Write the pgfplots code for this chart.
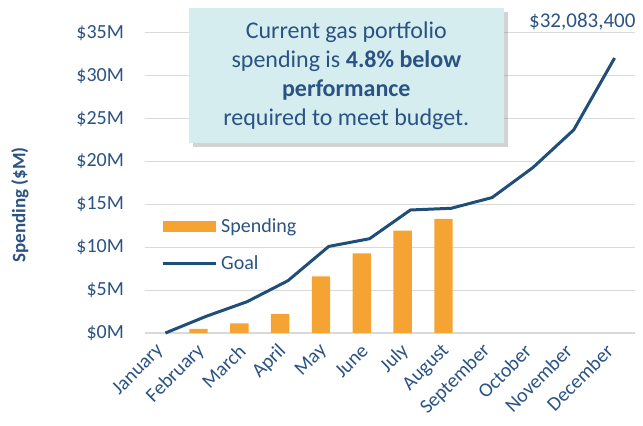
\documentclass[border=0pt]{standalone}
\usepackage{fontspec}
\setmainfont{Carlito}
\usepackage{pgfplots}
\pgfplotsset{compat=1.18}
\usetikzlibrary{shadows}

\definecolor{navy}{HTML}{1F4E79}
\definecolor{barorange}{HTML}{F5A433}
\definecolor{textblue}{HTML}{2A5384}
\definecolor{gridgray}{HTML}{D9D9D9}
\definecolor{boxfill}{HTML}{D5EDEF}

\begin{document}
\begin{tikzpicture}
\begin{axis}[
    at={(0,0)}, anchor=south west,
    scale only axis,
    width=245pt, height=150pt,
    xmin=-0.5, xmax=11.5,
    ymin=0, ymax=35,
    clip=false,
    xtick={0,...,11},
    xticklabels={January,February,March,April,May,June,July,August,September,October,November,December},
    ytick={0,5,10,15,20,25,30,35},
    yticklabels={\$0M,\$5M,\$10M,\$15M,\$20M,\$25M,\$30M,\$35M},
    /pgf/number format/assume math mode=true,
    axis x line*=bottom, axis y line*=left,
    x axis line style={-, draw=gridgray, line width=0.6pt},
    y axis line style={draw=none},
    major tick length=0pt,
    ymajorgrids=true,
    grid style={gridgray, line width=0.5pt},
    tick label style={font=\fontsize{10}{12}\selectfont, text=textblue},
    xticklabel style={rotate=45, anchor=east},
    xticklabel shift=5pt,
    yticklabel shift=7pt,
    ylabel={\textbf{Spending (\$M)}},
    ylabel style={at={(rel axis cs:-0.255,0.427)}, anchor=center, font=\fontsize{9.5}{11}\selectfont, text=textblue},
    legend style={at={(rel axis cs:0.02,0.41)}, anchor=north west, draw=none, fill=none,
        font=\fontsize{10}{12}\selectfont, text=textblue, row sep=6pt},
    legend cell align=left,
]
\addplot[ybar, bar width=0.45, bar shift=-0.19, fill=barorange, draw=none,
    legend image code/.code={\fill[barorange] (0pt,-2.8pt) rectangle (26.5pt,2.8pt);}]
    coordinates {(1,0.47)(2,1.12)(3,2.2)(4,6.6)(5,9.3)(6,11.95)(7,13.3)};
\addlegendentry{Spending}
\addplot[navy, line width=1.5pt, mark=none,
    legend image code/.code={\draw[navy, line width=1.5pt] (0pt,0pt) -- (26.5pt,0pt);}]
    coordinates {(0,0)(1,1.95)(2,3.65)(3,6.1)(4,10.1)(5,11.0)(6,14.35)(7,14.55)(8,15.8)(9,19.3)(10,23.7)(11,32.08)};
\addlegendentry{Goal}
\node[fill=boxfill, text=textblue, align=center, minimum width=157.5pt, minimum height=67.5pt,
    drop shadow={shadow xshift=2pt, shadow yshift=-2pt, opacity=0.35},
    font=\fontsize{12}{14.5}\selectfont] at (axis cs:4.43,30.04)
    {Current gas portfolio\\spending is \textbf{4.8\% below}\\\textbf{performance}\\required to meet budget.};
\node[text=textblue, font=\fontsize{10.5}{12}\selectfont] at (axis cs:10.21,36.3) {\$32,083,400};
\end{axis}
\pgfresetboundingbox
\path[use as bounding box] (-72.5pt,-46.5pt) rectangle (249pt,166.5pt);
\end{tikzpicture}
\end{document}
